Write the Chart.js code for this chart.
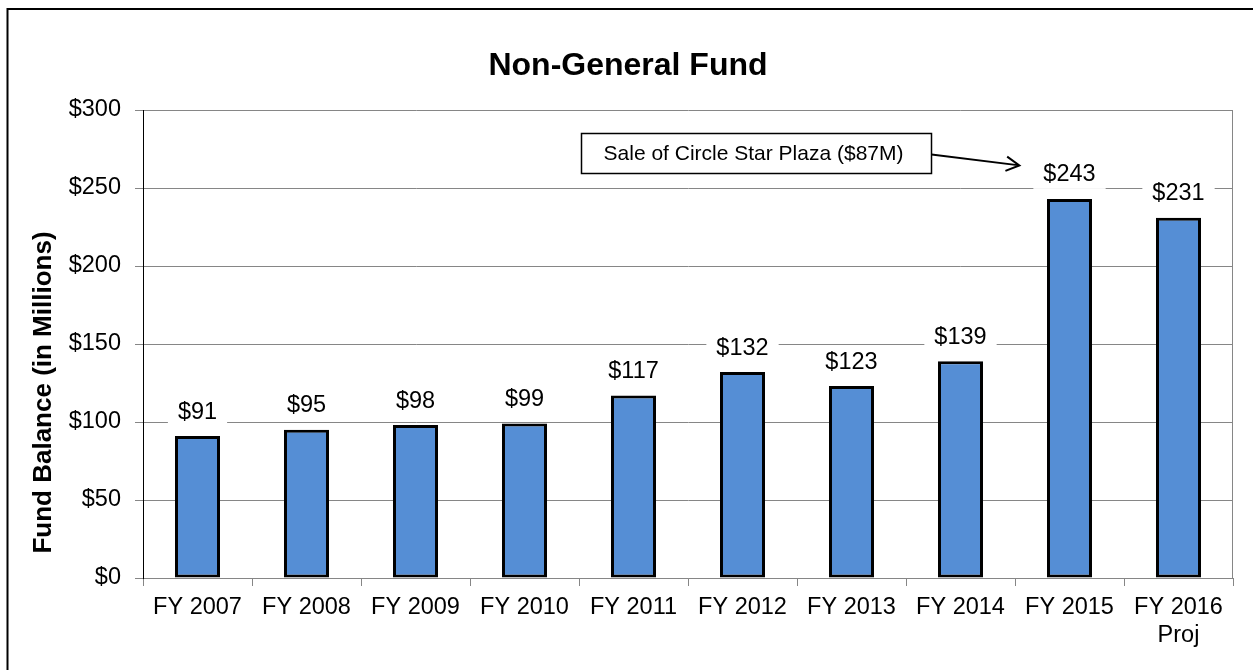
<!DOCTYPE html>
<html>
<head>
<meta charset="utf-8">
<script src="https://cdn.jsdelivr.net/npm/chart.js@4.4.1/dist/chart.umd.min.js"></script>
<style>
html,body{margin:0;padding:0;background:#fff;}
#wrap{width:1253px;height:670px;position:relative;}
</style>
</head>
<body>
<div id="wrap"><canvas id="c" width="1253" height="670"></canvas></div>
<script>
// ---- data ----
const categories = ['FY 2007','FY 2008','FY 2009','FY 2010','FY 2011','FY 2012','FY 2013','FY 2014','FY 2015',['FY 2016','Proj']];
const fundBalance = [91, 95, 98, 99, 117, 132, 123, 139, 243, 231];
const yTickValues = [0, 50, 100, 150, 200, 250, 300];
const chartTitle = 'Non-General Fund';
const yAxisTitle = 'Fund Balance (in Millions)';
const annotationText = 'Sale of Circle Star Plaza ($87M)';

// ---- styles / layout ----
const FONT = "'Liberation Sans', Arial, Helvetica, sans-serif";
const GRID = '#868686';
const annotationBox = { x0: 3.52, x1: 6.73, yTop: 285.3, yBottom: 259.7 }; // in data units
const annotationArrowTo = { x: 7.54, y: 264.5 };

const decor = {
  id: 'decor',
  beforeDraw(chart) {
    const ctx = chart.ctx;
    ctx.save();
    ctx.fillStyle = '#fff';
    ctx.fillRect(0, 0, chart.width, chart.height);
    ctx.restore();
  },
  beforeDatasetsDraw(chart) {
    const ctx = chart.ctx, a = chart.chartArea;
    ctx.save();
    ctx.strokeStyle = GRID;
    ctx.lineWidth = 1;
    ctx.beginPath();
    ctx.moveTo(Math.round(a.right) - 0.5, a.top);
    ctx.lineTo(Math.round(a.right) - 0.5, a.bottom);
    ctx.stroke();
    ctx.restore();
  },
  afterDatasetsDraw(chart) {
    const ctx = chart.ctx;
    const meta = chart.getDatasetMeta(0);
    const ys = chart.scales.y;
    ctx.save();
    ctx.font = '23.5px ' + FONT;
    ctx.textAlign = 'center';
    ctx.textBaseline = 'middle';
    meta.data.forEach((bar, i) => {
      const v = fundBalance[i];
      const label = '$' + v;
      const x = bar.x;
      const y = ys.getPixelForValue(v) - 24;
      const w = ctx.measureText(label).width + 20;
      ctx.fillStyle = '#fff';
      ctx.fillRect(x - w / 2, y - 14, w, 28);
      ctx.fillStyle = '#000';
      ctx.fillText(label, x, y);
    });
    ctx.restore();
  },
  afterDraw(chart) {
    const ctx = chart.ctx;
    const xs = chart.scales.x, ys = chart.scales.y;
    ctx.save();
    // chart title
    ctx.fillStyle = '#000';
    ctx.font = 'bold 32px ' + FONT;
    ctx.textAlign = 'center';
    ctx.textBaseline = 'middle';
    ctx.fillText(chartTitle, 628, 66);
    // y axis title
    ctx.save();
    ctx.translate(44, 392.5);
    ctx.rotate(-Math.PI / 2);
    ctx.font = 'bold 26px ' + FONT;
    ctx.fillText(yAxisTitle, 0, 0);
    ctx.restore();
    // outer frame (left & top)
    ctx.strokeStyle = '#000';
    ctx.lineWidth = 2;
    ctx.beginPath();
    ctx.moveTo(7.5, chart.height + 2);
    ctx.lineTo(7.5, 9);
    ctx.lineTo(chart.width + 2, 9);
    ctx.stroke();
    // annotation box
    const bx0 = Math.round(xs.getPixelForValue(annotationBox.x0)) + 0.5;
    const bx1 = Math.round(xs.getPixelForValue(annotationBox.x1)) + 0.5;
    const by0 = Math.round(ys.getPixelForValue(annotationBox.yTop)) + 0.5;
    const by1 = Math.round(ys.getPixelForValue(annotationBox.yBottom)) + 0.5;
    ctx.fillStyle = '#fff';
    ctx.fillRect(bx0, by0, bx1 - bx0, by1 - by0);
    ctx.lineWidth = 1.5;
    ctx.strokeStyle = '#000';
    ctx.strokeRect(bx0, by0, bx1 - bx0, by1 - by0);
    ctx.fillStyle = '#000';
    ctx.font = '21px ' + FONT;
    ctx.textAlign = 'center';
    ctx.textBaseline = 'middle';
    ctx.fillText(annotationText, (bx0 + bx1) / 2 - 3, (by0 + by1) / 2 + 1);
    // arrow
    const sx = bx1, sy = (by0 + by1) / 2 + 1;
    const ex = xs.getPixelForValue(annotationArrowTo.x), ey = ys.getPixelForValue(annotationArrowTo.y);
    const ang = Math.atan2(ey - sy, ex - sx);
    ctx.lineWidth = 2;
    ctx.beginPath();
    ctx.moveTo(sx, sy);
    ctx.lineTo(ex, ey);
    const hl = 15, ha = 0.5;
    ctx.moveTo(ex - hl * Math.cos(ang - ha), ey - hl * Math.sin(ang - ha));
    ctx.lineTo(ex, ey);
    ctx.lineTo(ex - hl * Math.cos(ang + ha), ey - hl * Math.sin(ang + ha));
    ctx.stroke();
    ctx.restore();
  }
};

new Chart(document.getElementById('c'), {
  type: 'bar',
  data: {
    labels: categories,
    datasets: [{
      data: fundBalance,
      backgroundColor: '#558ed5',
      borderColor: '#000',
      borderWidth: 3,
      borderSkipped: false,
      barPercentage: 0.413,
      categoryPercentage: 1
    }]
  },
  options: {
    responsive: false,
    devicePixelRatio: 1,
    animation: false,
    layout: { padding: { top: 110, right: 20, bottom: 0, left: 0 } },
    plugins: {
      legend: { display: false },
      title: { display: false },
      tooltip: { enabled: false }
    },
    scales: {
      x: {
        grid: { display: true, drawOnChartArea: false, drawTicks: true, tickLength: 8, color: GRID, offset: true },
        border: { display: true, color: GRID, width: 1 },
        ticks: { color: '#000', font: { family: FONT, size: 23.5 }, padding: 7, maxRotation: 0, autoSkip: false },
        afterFit(s) { s.height = 92; }
      },
      y: {
        min: 0, max: 300,
        afterBuildTicks(s) { s.ticks = yTickValues.map(v => ({ value: v })); },
        grid: { color: GRID, tickLength: 8, drawTicks: true },
        border: { display: true, color: '#000', width: 1 },
        ticks: { color: '#000', font: { family: FONT, size: 23.5 }, padding: 14, callback: v => '$' + v },
        afterFit(s) { s.width = 143; }
      }
    }
  },
  plugins: [decor]
});
</script>
</body>
</html>
